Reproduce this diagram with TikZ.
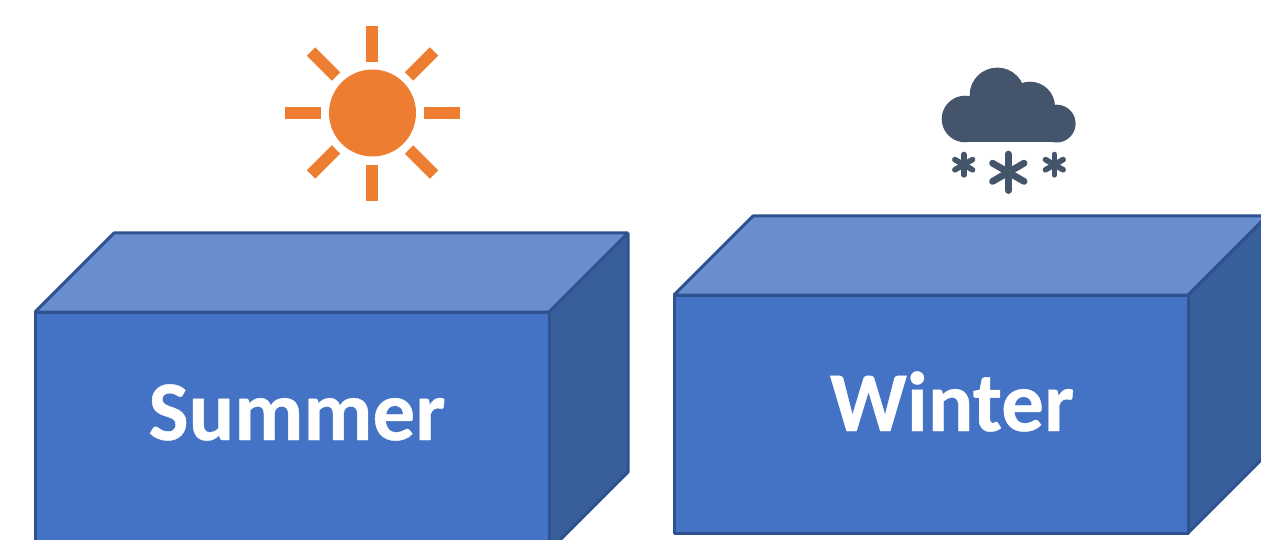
\documentclass[tikz,border=0pt]{standalone}
\usepackage{fontspec}
\setmainfont[BoldFeatures={FakeBold=0.5}]{Carlito}
\definecolor{front}{HTML}{4472C4}
\definecolor{topf}{HTML}{698ED0}
\definecolor{sidef}{HTML}{365F9B}
\definecolor{edge}{HTML}{2F528F}
\definecolor{sun}{HTML}{ED7D31}
\definecolor{cloud}{HTML}{44546A}
\tikzset{
  x=1pt,y=-1pt,
  facefront/.style={fill=front,draw=edge,line width=3pt,line join=bevel},
  facetop/.style={fill=topf,draw=edge,line width=3pt,line join=bevel},
  faceside/.style={fill=sidef,draw=edge,line width=3pt,line join=bevel},
  ray/.style={draw=sun,line width=12pt},
  bigflake/.style={draw=cloud,line width=6.8pt,line cap=round},
  smallflake/.style={draw=cloud,line width=5.6pt,line cap=round},
  label/.style={text=white,font=\fontsize{85}{85}\selectfont\bfseries,anchor=base,inner sep=0pt}
}
\begin{document}
\begin{tikzpicture}
\useasboundingbox (0,0) rectangle (1261,540);
\clip (0,0) rectangle (1261,540);
% Summer box
\draw[faceside] (549,312) -- (628,233) -- (628,472) -- (549,551) -- cycle;
\draw[facetop] (35,312) -- (114,233) -- (628,233) -- (549,312) -- cycle;
\draw[facefront] (35,312) rectangle (549,551);
\node[label] (summer) at (297,440) {Summer};
% Winter box
\draw[faceside] (1188,295) -- (1267,216) -- (1267,454) -- (1188,533) -- cycle;
\draw[facetop] (674,295) -- (753,216) -- (1267,216) -- (1188,295) -- cycle;
\draw[facefront] (674,295) rectangle (1188,533);
\node[label] (winter) at (952,431) {Winter};
% Sun
\fill[sun] (372.5,113) circle (43.5);
\draw[ray] (372,26) -- (372,62);
\draw[ray] (372,165) -- (372,201);
\draw[ray] (285,113) -- (321,113);
\draw[ray] (424,113) -- (460,113);
\draw[ray] (311,51.5) -- (336,76.5);
\draw[ray] (434,51.5) -- (409,76.5);
\draw[ray] (311,174.5) -- (336,149.5);
\draw[ray] (434,174.5) -- (409,149.5);
% Cloud
\fill[cloud] (965,119) circle (23.3);
\fill[cloud] (997.3,95.3) circle (27.7);
\fill[cloud] (1030,106.7) circle (25);
\fill[cloud] (1056.7,123.6) circle (18.9);
\fill[cloud] (965,112) rectangle (1057,142.5);
% Snowflakes
\foreach \a in {30,90,150}{
  \draw[bigflake] (1008.3,172.3) ++(\a:-18.2) -- ++(\a:36.4);
  \draw[smallflake] (963.7,164.7) ++(\a:-10.2) -- ++(\a:20.4);
  \draw[smallflake] (1054.3,164.7) ++(\a:-10.2) -- ++(\a:20.4);
}
\end{tikzpicture}
\end{document}
